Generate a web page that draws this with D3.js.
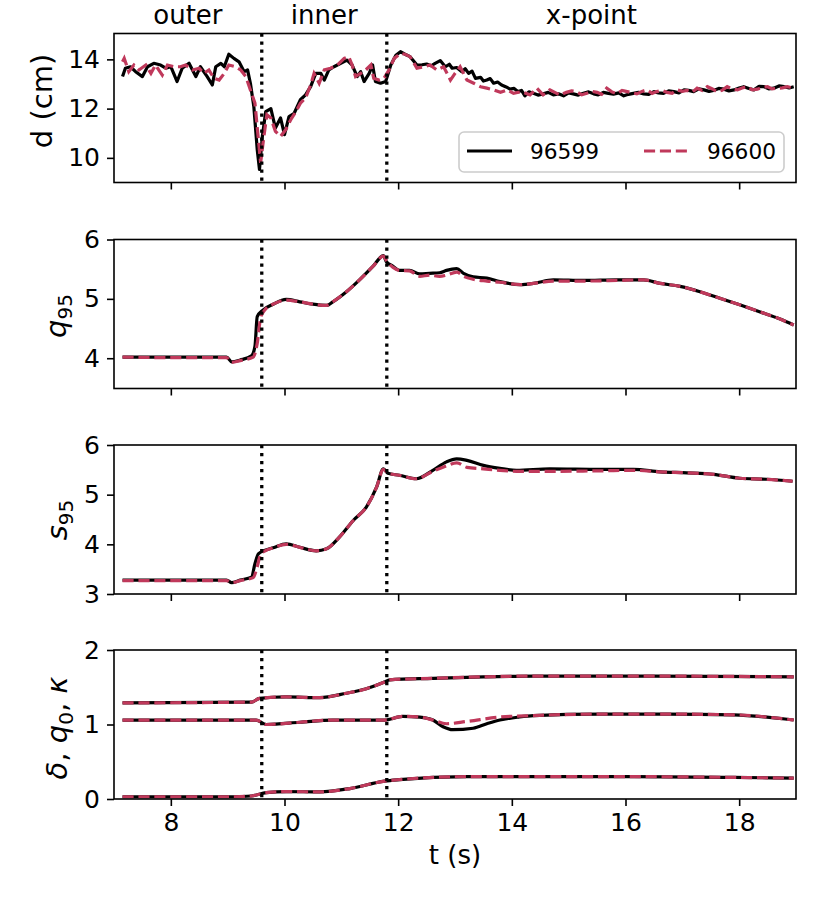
<!DOCTYPE html>
<html>
<head>
<meta charset="utf-8">
<script src="https://cdn.jsdelivr.net/npm/d3@7"></script>
<style>
  body { margin: 0; background: #fff; }
  svg text { font-family: "DejaVu Sans", sans-serif; fill: #000; }
</style>
</head>
<body>
<div id="chart"></div>
<script>
// ---- data ----
const shots = ['96599', '96600'];
const regions = ['outer', 'inner', 'x-point'];
const regionEdges = [7.0, 9.6, 11.8, 19.0];
const xTicks = [8, 10, 12, 14, 16, 18];

// panel 1: d (cm)
const dT1 = [7.15,7.20,7.29,7.38,7.50,7.59,7.70,7.82,7.91,8.00,8.11,8.20,8.32,8.44,8.52,8.64,8.73,8.79,8.88,8.94,
  9.02,9.11,9.20,9.29,9.35,9.40,9.46,9.52,9.56,9.61,9.67,9.76,9.84,9.93,10.00,10.08,10.17,10.28,10.37,10.46,
  10.55,10.64,10.70,10.78,10.87,10.99,11.10,11.19,11.28,11.34,11.40,11.49,11.55,11.60,11.69,11.78,11.87,11.96,12.04,12.12,
  12.21,12.33,12.42,12.50,12.58,12.65,12.74,12.83,12.90,12.95,13.03,13.12,13.18,13.24,13.30,13.36,13.45,13.50,13.56,13.62,
  13.68,13.75,13.82,13.90,13.97,14.04,14.11,14.17,14.23,14.30,14.38,14.46,14.55,14.64,14.73,14.82,14.91,15.00,15.08,15.17,
  15.26,15.35,15.44,15.52,15.61,15.70,15.79,15.88,15.97,16.05,16.14,16.23,16.32,16.41,16.50,16.58,16.67,16.76,16.85,16.94,
  17.03,17.11,17.20,17.29,17.38,17.47,17.55,17.64,17.73,17.82,17.91,18.00,18.08,18.17,18.26,18.35,18.44,18.52,18.61,18.70,
  18.79,18.88,18.96];
const dA = [13.30,13.64,13.70,13.50,13.30,13.70,13.84,13.77,13.64,13.70,13.10,13.64,13.84,13.30,13.70,13.30,12.96,13.70,13.84,13.70,
  14.21,14.04,13.90,13.50,13.57,13.03,12.09,10.34,9.53,10.87,11.88,12.00,11.21,11.62,10.94,11.68,11.81,12.36,12.56,12.89,
  13.43,13.43,13.16,13.57,13.70,13.84,13.97,13.77,13.30,13.50,13.10,13.43,13.77,13.10,13.03,13.10,13.77,14.17,14.31,14.21,
  14.11,13.77,13.78,13.81,13.74,13.84,13.95,13.70,13.80,13.64,13.67,13.50,13.62,13.43,13.52,13.23,13.27,13.12,13.16,13.22,
  13.03,13.08,12.96,12.88,12.79,12.82,12.69,12.74,12.52,12.68,12.62,12.55,12.60,12.66,12.56,12.60,12.52,12.64,12.60,12.55,
  12.62,12.68,12.60,12.56,12.66,12.62,12.59,12.64,12.52,12.58,12.62,12.66,12.60,12.58,12.69,12.64,12.62,12.72,12.69,12.64,
  12.76,12.74,12.69,12.80,12.76,12.70,12.74,12.82,12.79,12.72,12.76,12.84,12.89,12.82,12.76,12.90,12.89,12.80,12.83,12.92,
  12.89,12.84,12.89];
const dT2 = [7.15,7.18,7.26,7.35,7.44,7.56,7.65,7.73,7.85,7.94,8.06,8.17,8.26,8.38,8.50,8.58,8.67,8.76,8.85,8.94,
  9.02,9.14,9.23,9.32,9.40,9.48,9.53,9.58,9.63,9.69,9.76,9.84,9.93,10.02,10.11,10.20,10.28,10.37,10.46,10.52,
  10.61,10.70,10.81,10.93,11.05,11.13,11.19,11.25,11.34,11.43,11.52,11.57,11.66,11.75,11.84,11.93,12.04,12.12,12.21,12.33,
  12.45,12.56,12.68,12.80,12.92,13.00,13.09,13.21,13.33,13.45,13.56,13.68,13.80,13.92,14.03,14.17,14.32,14.44,14.55,14.67,
  14.79,14.85,14.96,15.05,15.14,15.23,15.32,15.41,15.50,15.58,15.67,15.76,15.85,15.94,16.03,16.12,16.20,16.29,16.38,16.47,
  16.55,16.64,16.73,16.82,16.91,17.00,17.08,17.17,17.26,17.35,17.44,17.53,17.61,17.70,17.79,17.88,17.97,18.05,18.14,18.23,
  18.32,18.41,18.50,18.58,18.67,18.76,18.85,18.96];
const dB = [13.90,14.04,13.50,13.77,13.57,13.77,13.43,13.77,13.36,13.77,13.70,13.70,13.77,13.57,13.64,13.43,13.57,13.23,13.16,13.43,
  13.77,13.70,13.57,13.30,12.76,12.22,11.00,9.80,10.74,11.75,11.62,11.08,10.87,11.14,11.55,11.88,12.22,12.43,12.96,13.43,
  13.03,13.57,13.64,13.77,14.04,14.11,13.77,13.30,13.43,13.57,13.77,13.23,13.16,13.23,13.57,14.04,14.24,14.21,14.11,13.64,
  13.70,13.77,13.57,13.70,13.16,13.43,13.70,13.16,13.03,12.89,12.83,12.76,12.66,12.76,12.62,12.69,12.56,12.83,12.56,12.76,
  12.62,12.55,12.66,12.72,12.69,12.56,12.62,12.70,12.66,12.58,12.83,12.68,12.60,12.74,12.69,12.64,12.60,12.70,12.76,12.62,
  12.69,12.74,12.66,12.62,12.76,12.70,12.74,12.66,12.83,12.74,12.89,12.80,12.69,12.74,12.89,12.80,12.76,12.84,12.89,12.76,
  12.79,12.86,12.89,12.80,12.83,12.84,12.89,12.83];

// panel 2: q95
const qT1 = [7.15,8.00,8.98,9.07,9.22,9.42,9.48,9.52,9.62,9.80,10.03,10.27,10.50,10.74,10.85,11.09,11.32,11.56,11.74,11.79,
  11.91,12.02,12.20,12.38,12.55,12.73,12.85,13.03,13.15,13.32,13.56,13.79,14.15,14.38,14.73,15.26,15.85,16.32,16.61,16.96,
  17.31,17.66,18.01,18.37,18.72,18.96];
const q95A = [4.02,4.02,4.02,3.94,3.97,4.04,4.20,4.70,4.81,4.91,4.99,4.95,4.91,4.89,4.95,5.12,5.32,5.55,5.73,5.63,
  5.55,5.48,5.48,5.42,5.43,5.44,5.48,5.51,5.43,5.37,5.35,5.29,5.24,5.26,5.32,5.31,5.32,5.32,5.26,5.21,
  5.12,5.01,4.90,4.78,4.66,4.56];
const qT2 = [7.15,8.00,8.98,9.07,9.22,9.45,9.52,9.58,9.66,9.80,10.03,10.27,10.50,10.74,10.85,11.09,11.32,11.56,11.74,11.79,
  11.91,12.02,12.20,12.38,12.55,12.73,12.85,13.03,13.15,13.32,13.56,13.79,14.15,14.38,14.73,15.26,15.85,16.32,16.61,16.96,
  17.31,17.66,18.01,18.37,18.72,18.96];
const q95B = [4.02,4.01,4.01,3.93,3.96,4.02,4.25,4.68,4.82,4.91,4.98,4.95,4.91,4.89,4.95,5.12,5.32,5.55,5.72,5.65,
  5.53,5.48,5.47,5.38,5.40,5.38,5.40,5.45,5.38,5.33,5.30,5.28,5.24,5.26,5.30,5.30,5.31,5.32,5.26,5.21,
  5.12,5.01,4.90,4.78,4.66,4.56];

// panel 3: s95
const sT1 = [7.15,8.98,9.07,9.22,9.42,9.48,9.54,9.66,9.80,10.03,10.27,10.56,10.74,10.97,11.21,11.44,11.62,11.74,11.82,12.02,
  12.32,12.61,12.85,13.03,13.21,13.50,13.79,14.08,14.67,15.56,16.14,16.61,17.08,17.55,18.01,18.48,18.94];
const s95A = [3.28,3.28,3.23,3.28,3.34,3.61,3.81,3.88,3.93,4.01,3.94,3.87,3.91,4.15,4.48,4.75,5.15,5.52,5.43,5.39,
  5.32,5.49,5.66,5.72,5.69,5.59,5.53,5.49,5.52,5.51,5.51,5.46,5.44,5.41,5.33,5.31,5.27];
const sT2 = [7.15,8.98,9.07,9.22,9.45,9.52,9.58,9.66,9.80,10.03,10.27,10.56,10.74,10.97,11.21,11.44,11.62,11.74,11.82,12.02,
  12.32,12.61,12.85,13.03,13.21,13.50,13.79,14.08,14.67,15.56,16.14,16.61,17.08,17.55,18.01,18.48,18.94];
const s95B = [3.27,3.27,3.23,3.27,3.33,3.55,3.80,3.87,3.93,4.00,3.94,3.87,3.91,4.15,4.48,4.75,5.15,5.51,5.43,5.39,
  5.32,5.47,5.58,5.64,5.55,5.52,5.49,5.47,5.47,5.48,5.49,5.46,5.44,5.41,5.33,5.31,5.27];

// panel 4: kappa, q0, delta
const kT = [7.15,9.42,9.56,10.03,10.62,11.09,11.44,11.76,11.85,12.61,13.50,14.38,16.00,18.96];
const kappa = [1.29,1.30,1.35,1.37,1.36,1.42,1.48,1.57,1.60,1.62,1.64,1.65,1.65,1.64];
const q0T1 = [7.15,9.50,9.68,10.27,10.85,11.76,12.08,12.38,12.61,12.79,12.96,13.32,13.56,13.79,14.12,14.38,15.56,16.73,17.90,18.96];
const q0A = [1.06,1.06,1.00,1.03,1.06,1.06,1.11,1.10,1.06,0.97,0.93,0.95,1.01,1.06,1.10,1.12,1.14,1.14,1.13,1.06];
const q0T2 = [7.15,9.50,9.68,10.27,10.85,11.76,12.08,12.38,12.61,12.85,13.20,13.79,14.38,15.56,16.73,17.90,18.96];
const q0B = [1.06,1.06,1.00,1.03,1.06,1.06,1.11,1.10,1.06,1.01,1.04,1.10,1.12,1.14,1.14,1.13,1.06];
const dlT = [7.15,9.10,9.42,9.68,10.03,10.62,11.15,11.76,12.02,13.21,14.38,16.14,17.90,18.96];
const delta = [0.03,0.03,0.04,0.085,0.10,0.095,0.14,0.24,0.26,0.30,0.30,0.30,0.29,0.28];

const zip = (t, v) => t.map((x, i) => [x, v[i]]);

const panels = [
  { domain: [9.0, 15.05], ticks: [10, 12, 14], curve: d3.curveLinear,
    A: [zip(dT1, dA)], B: [zip(dT2, dB)] },
  { domain: [3.49, 6.0], ticks: [4, 5, 6], curve: d3.curveMonotoneX,
    A: [zip(qT1, q95A)], B: [zip(qT2, q95B)] },
  { domain: [3.0, 6.0], ticks: [3, 4, 5, 6], curve: d3.curveMonotoneX,
    A: [zip(sT1, s95A)], B: [zip(sT2, s95B)] },
  { domain: [0, 2], ticks: [0, 1, 2], curve: d3.curveMonotoneX,
    A: [zip(kT, kappa), zip(q0T1, q0A), zip(dlT, delta)],
    B: [zip(kT, kappa), zip(q0T2, q0B), zip(dlT, delta)] },
];

// ---- layout ----
const width = 830, height = 906;
const left = 114, right = 796;
const tops = [33.5, 239.5, 445, 650];
const ph = 149;
const red = '#c0395b';

const svg = d3.select('#chart').append('svg')
  .attr('width', width).attr('height', height);

const x = d3.scaleLinear().domain([7.0, 19.0]).range([left, right]);

panels.forEach((p, i) => {
  const top = tops[i];
  const y = d3.scaleLinear().domain(p.domain).range([top + ph, top]);
  const g = svg.append('g');

  g.append('clipPath').attr('id', 'clip' + i)
    .append('rect').attr('x', left).attr('y', top).attr('width', right - left).attr('height', ph);

  const line = d3.line().x(d => x(d[0])).y(d => y(d[1])).curve(p.curve);
  const plot = g.append('g').attr('clip-path', `url(#clip${i})`);

  p.A.forEach(s => plot.append('path').attr('d', line(s))
    .attr('fill', 'none').attr('stroke', '#000').attr('stroke-width', 3.2).attr('stroke-linejoin', 'round'));
  p.B.forEach(s => plot.append('path').attr('d', line(s))
    .attr('fill', 'none').attr('stroke', red).attr('stroke-width', 3.2).attr('stroke-dasharray', '11.1,4.8'));

  // region boundaries
  [regionEdges[1], regionEdges[2]].forEach(t => {
    plot.append('line').attr('x1', x(t)).attr('x2', x(t)).attr('y1', top).attr('y2', top + ph)
      .attr('stroke', '#000').attr('stroke-width', 3.3).attr('stroke-dasharray', '3.3,4.7');
  });

  // axes
  const xa = d3.axisBottom(x).tickValues(xTicks).tickSize(7).tickPadding(7)
    .tickFormat(i === 3 ? d3.format('d') : '');
  const gx = g.append('g').attr('transform', `translate(0,${top + ph})`).call(xa);
  const ya = d3.axisLeft(y).tickValues(p.ticks).tickSize(7).tickPadding(7).tickFormat(d3.format('d'));
  const gy = g.append('g').attr('transform', `translate(${left},0)`).call(ya);
  [gx, gy].forEach(a => {
    a.select('.domain').remove();
    a.selectAll('line').attr('stroke-width', 1.6);
    a.selectAll('text').style('font-size', '25px').style('font-family', '"DejaVu Sans", sans-serif');
  });

  g.append('rect').attr('x', left).attr('y', top).attr('width', right - left).attr('height', ph)
    .attr('fill', 'none').attr('stroke', '#000').attr('stroke-width', 1.6);
});

// y labels
function ylab(cx, cy, parts) {
  const t = svg.append('text')
    .attr('transform', `translate(${cx},${cy}) rotate(-90)`)
    .attr('text-anchor', 'middle').style('font-size', '29px');
  parts.forEach(([txt, opt]) => {
    const s = t.append('tspan').text(txt);
    if (opt === 'i') s.style('font-style', 'italic');
    if (opt === 'sub') s.style('font-size', '20px').attr('dy', 6);
    if (opt === 'up') s.attr('dy', -6);
  });
}
ylab(52, 101, [['d (cm)']]);
ylab(66, 316, [['q', 'i'], ['95', 'sub']]);
ylab(67, 520, [['s', 'i'], ['95', 'sub']]);
ylab(67, 728, [['δ', 'i'], [', '], ['q', 'i'], ['0', 'sub'], [', ', 'up'], ['κ', 'i']]);

// x label
svg.append('text').attr('x', (left + right) / 2).attr('y', 864)
  .attr('text-anchor', 'middle').style('font-size', '26px').text('t (s)');

// region labels
regions.forEach((r, i) => {
  svg.append('text').attr('x', x((regionEdges[i] + regionEdges[i + 1]) / 2)).attr('y', 24)
    .attr('text-anchor', 'middle').style('font-size', '26px').text(r);
});

// legend
const lg = svg.append('g');
lg.append('rect').attr('x', 459).attr('y', 132).attr('width', 325).attr('height', 40)
  .attr('rx', 5).attr('fill', '#fff').attr('fill-opacity', 0.8).attr('stroke', '#ccc').attr('stroke-width', 1.6);
[[467, '#000', null], [644, red, '11.1,4.8']].forEach(([lx, c, dash], i) => {
  lg.append('line').attr('x1', lx).attr('x2', lx + 45).attr('y1', 151).attr('y2', 151)
    .attr('stroke', c).attr('stroke-width', 3.2).attr('stroke-dasharray', dash);
  lg.append('text').attr('x', lx + 63).attr('y', 159).style('font-size', '21.7px').text(shots[i]);
});
</script>
</body>
</html>
